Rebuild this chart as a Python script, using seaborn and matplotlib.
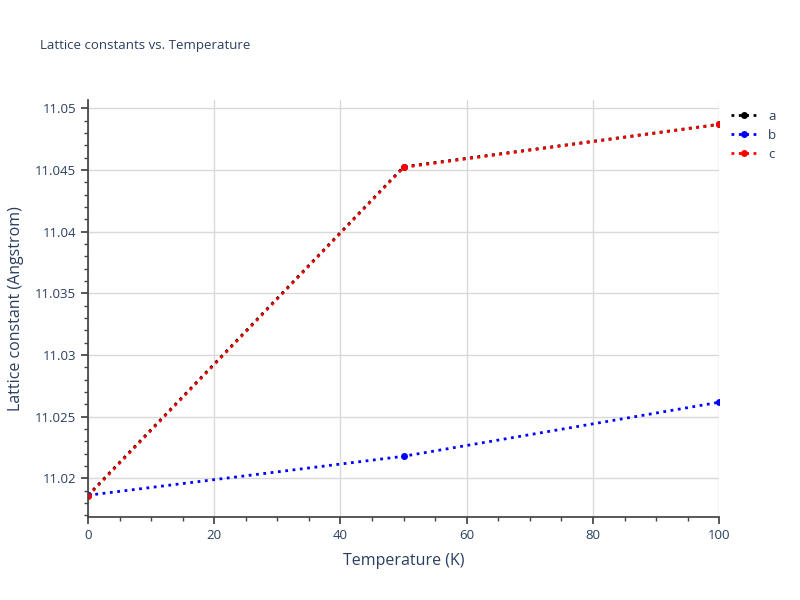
"""Lattice constants vs temperature."""

import matplotlib
matplotlib.use("Agg")
import matplotlib.pyplot as plt
import pandas as pd
import seaborn as sns
from matplotlib.ticker import FuncFormatter, MultipleLocator

temperature = [0, 50, 100]
lattice_a = [11.01862, 11.04525, 11.04870]
lattice_b = [11.01862, 11.02178, 11.02616]
lattice_c = [11.01855, 11.04520, 11.04868]

df = pd.DataFrame({"T": temperature, "a": lattice_a, "b": lattice_b, "c": lattice_c})
long = df.melt(id_vars="T", var_name="series", value_name="value")

sns.set_theme(style="white")
plt.rcParams["font.family"] = ["Open Sans", "DejaVu Sans"]
text_color = "#2a3f5f"

fig = plt.figure(figsize=(8, 6), dpi=100)
ax = fig.add_axes([0.11, 0.138, 0.789, 0.695])
palette = {"a": "black", "b": "blue", "c": "red"}
for name, grp in long.groupby("series"):
    sns.lineplot(data=grp, x="T", y="value", ax=ax, color=palette[name], linestyle=":",
                 linewidth=2, marker="o", markersize=5, markeredgewidth=0, label=name)

ax.set_xlim(0, 100)
ax.set_ylim(11.01684, 11.05065)
ax.xaxis.set_major_locator(MultipleLocator(20))
ax.yaxis.set_major_locator(MultipleLocator(0.005))
ax.xaxis.set_minor_locator(MultipleLocator(5))
ax.yaxis.set_minor_locator(MultipleLocator(0.001))
ax.yaxis.set_major_formatter(FuncFormatter(lambda v, p: f"{v:.3f}".rstrip("0")))
ax.grid(True, which="major", color="#d9d9d9", linewidth=1)
ax.tick_params(which="both", direction="out", colors="#444444", labelcolor=text_color, labelsize=9.5)
ax.tick_params(which="major", length=5, bottom=True, left=True)
ax.tick_params(which="minor", length=3, bottom=True, left=True)
for side in ["top", "right"]:
    ax.spines[side].set_visible(False)
for side in ["left", "bottom"]:
    ax.spines[side].set_color("#444444")
ax.set_xlabel("Temperature (K)", color=text_color, fontsize=11.5, labelpad=8)
ax.set_ylabel("Lattice constant (Angstrom)", color=text_color, fontsize=11.5, labelpad=8)
fig.text(0.05, 0.918, "Lattice constants vs. Temperature", color=text_color, fontsize=9.5)
leg = ax.legend(loc="upper left", bbox_to_anchor=(1.0, 1.005), frameon=False, fontsize=9.5,
                handlelength=2, labelspacing=0.45, labelcolor=text_color)

fig.savefig("out.png")
